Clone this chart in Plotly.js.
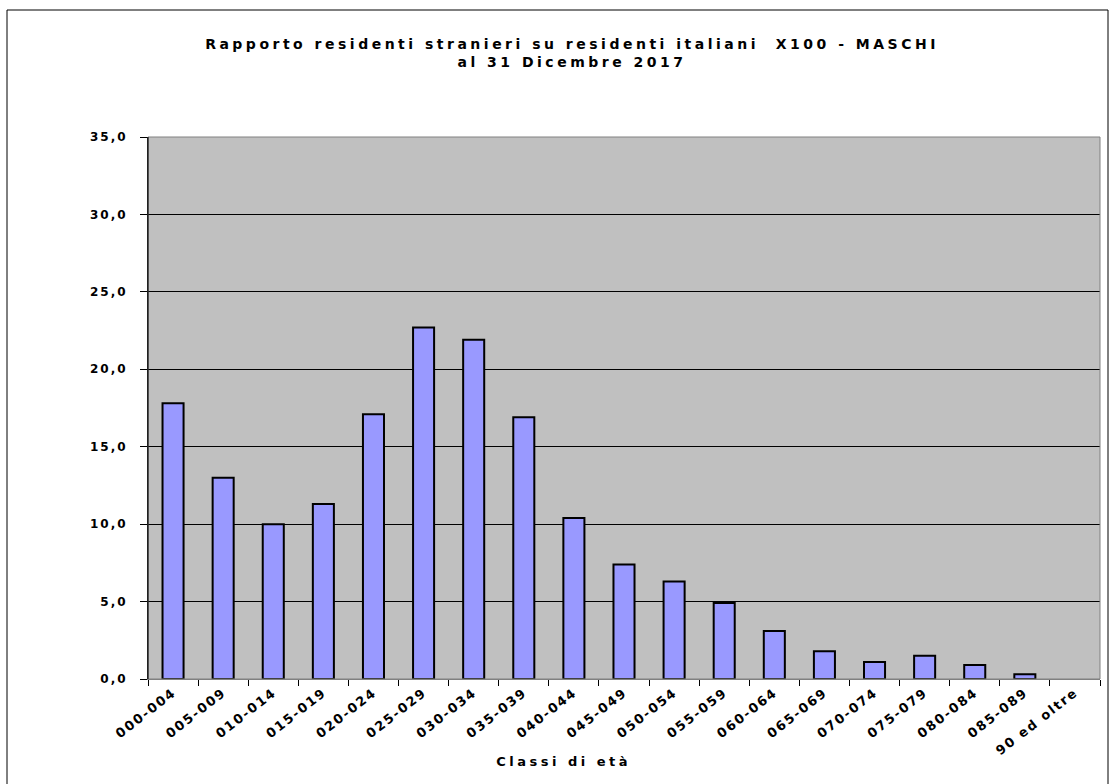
<!DOCTYPE html>
<html>
<head>
<meta charset="utf-8">
<script src="https://cdn.plot.ly/plotly-3.0.1.min.js"></script>
<style>
html,body{margin:0;padding:0;background:#fff;}
#chart{width:1113px;height:784px;}
#chart .gtitle{letter-spacing:3.5px;}
#chart .xtick text{letter-spacing:1.8px;}
#chart .ytick text{letter-spacing:2px;}
#chart .annotation-text{letter-spacing:3.5px;}
</style>
</head>
<body>
<div id="chart"></div>
<script>
const categories = ["000-004","005-009","010-014","015-019","020-024","025-029","030-034","035-039","040-044","045-049","050-054","055-059","060-064","065-069","070-074","075-079","080-084","085-089","90 ed oltre"];
const values = [17.8, 13.0, 10.0, 11.3, 17.1, 22.7, 21.9, 16.9, 10.4, 7.4, 6.3, 4.9, 3.1, 1.8, 1.1, 1.5, 0.9, 0.3, 0.0];
const yTicks = [0,5,10,15,20,25,30,35];
const titleText = "Rapporto residenti stranieri su residenti italiani  X100 - MASCHI<br>al 31 Dicembre 2017";
const xTitle = "Classi di età";

const FONT = "DejaVu Sans, Verdana, sans-serif";

const trace = {
  type: "bar",
  x: categories,
  y: values,
  marker: {color: "#9999FF", line: {color: "#000000", width: values.map(v => v > 0 ? 2 : 0)}},
  hoverinfo: "x+y"
};

const layout = {
  width: 1113, height: 784,
  margin: {l: 148, r: 13, t: 137, b: 105},
  paper_bgcolor: "#ffffff",
  plot_bgcolor: "#C0C0C0",
  bargap: 0.58,
  separators: ",.",
  showlegend: false,
  font: {family: FONT, color: "#000"},
  title: {
    text: titleText,
    font: {family: FONT, size: 14, weight: "bold", color: "#000"},
    xref: "container", x: 572/1113, xanchor: "center",
    yref: "container", y: 1 - 49/784, yanchor: "top"
  },
  xaxis: {
    type: "category",
    tickangle: -38,
    ticks: "outside", ticklen: 6, tickcolor: "#000", tickson: "boundaries",
    showline: true, linecolor: "#808080", linewidth: 1,
    tickfont: {family: FONT, size: 13, weight: "bold", color: "#000"},
    showgrid: false, zeroline: false
  },
  yaxis: {
    range: [0, 35],
    tickvals: yTicks,
    tickformat: ".1f",
    ticks: "outside", ticklen: 7, tickcolor: "#000",
    ticklabelstandoff: 10,
    showline: true, linecolor: "#000", linewidth: 1,
    showgrid: true, gridcolor: "#000", gridwidth: 1,
    zeroline: false,
    tickfont: {family: FONT, size: 12, weight: "bold", color: "#000"}
  },
  annotations: [{
    text: xTitle, showarrow: false,
    xref: "paper", yref: "paper",
    x: (563-148)/952, y: -(761-679)/542, xanchor: "center", yanchor: "middle",
    font: {family: FONT, size: 13, weight: "bold", color: "#000"}
  }],
  shapes: [
    {type: "rect", xref: "paper", yref: "paper", x0: 0, x1: 1, y0: 0, y1: 1,
     line: {color: "#808080", width: 1}, layer: "above"},
    {type: "line", xref: "paper", yref: "paper", x0: 0, x1: 0, y0: 0, y1: 1,
     line: {color: "#000", width: 1}, layer: "above"},
    {type: "rect", xref: "paper", yref: "paper",
     x0: (7-148)/952, x1: (1108-148)/952, y0: -(800-679)/542, y1: (679-10)/542,
     line: {color: "#000", width: 1}, layer: "below"}
  ]
};

Plotly.newPlot("chart", [trace], layout, {displayModeBar: false, responsive: false});
</script>
</body>
</html>
